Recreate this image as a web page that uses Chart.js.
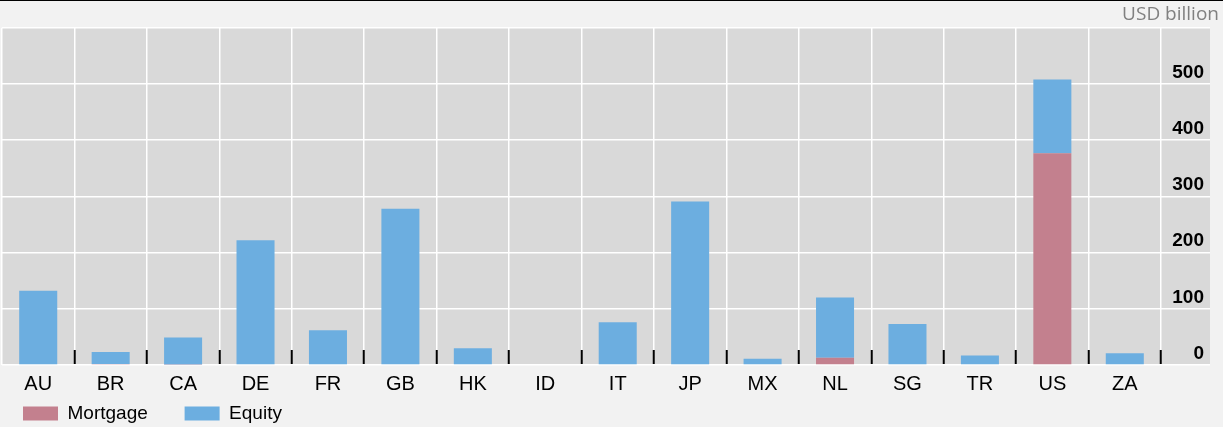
<!DOCTYPE html>
<html>
<head>
<meta charset="utf-8">
<script src="https://cdn.jsdelivr.net/npm/chart.js@4.4.1/dist/chart.umd.min.js"></script>
<style>
    html, body { margin: 0; padding: 0; background: #f2f2f2; }
    #wrap { width: 1223px; height: 427px; position: relative; }
</style>
</head>
<body>
<div id="wrap"><canvas id="chart"></canvas></div>
<script>
// --- Data ---
const countries = ['AU', 'BR', 'CA', 'DE', 'FR', 'GB', 'HK', 'ID', 'IT', 'JP', 'MX', 'NL', 'SG', 'TR', 'US', 'ZA'];
const mortgage = [0, 2, 1, 0, 0, 0, 0, 0, 0, 0, 0, 13, 0, 0, 377, 0];
const equity = [132, 21, 48, 222, 62, 278, 30, 0, 76, 291, 11, 107, 73, 17, 131, 21];
const yTickValues = [0, 100, 200, 300, 400, 500];
const yTickLabels = ['0', '100', '200', '300', '400', '500'];
const unitLabel = 'USD billion';

const fontFamily = '"Liberation Sans", Arial, sans-serif';
const gridExtend = 49; // horizontal grid lines run on into the label strip

// gray plot panel behind the grid (reaches over the value labels on the right)
const panelPlugin = {
    id: 'panel',
    beforeDraw(chart) {
        const { ctx, chartArea } = chart;
        const yScale = chart.scales.y;
        ctx.save();
        ctx.fillStyle = '#000';
        ctx.fillRect(0, 0, chart.width, 1);
        ctx.fillStyle = '#d9d9d9';
        ctx.fillRect(chartArea.left, chartArea.top,
            yScale.left + gridExtend - chartArea.left, chartArea.bottom - chartArea.top);
        ctx.restore();
    }
};

const ctx = document.getElementById('chart').getContext('2d');
new Chart(ctx, {
    type: 'bar',
    data: {
        labels: countries,
        datasets: [
            { label: 'Mortgage', data: mortgage, backgroundColor: '#c3808e', borderWidth: 0 },
            { label: 'Equity', data: equity, backgroundColor: '#6caee0', borderWidth: 0 }
        ]
    },
    options: {
        responsive: true,
        maintainAspectRatio: false,
        animation: false,
        layout: { padding: { left: 2, right: 4, top: 0, bottom: -6 } },
        datasets: { bar: { barPercentage: 0.525, categoryPercentage: 1 } },
        scales: {
            x: {
                stacked: true,
                border: { display: false },
                grid: {
                    color: '#ffffff',
                    lineWidth: 1.5,
                    offset: true,
                    tickLength: -15,
                    tickWidth: 2,
                    tickColor: c => c.index === 0 ? 'rgba(0,0,0,0)' : '#000'
                },
                ticks: {
                    color: '#000',
                    mirror: true,
                    padding: -31,
                    font: { family: fontFamily, size: 20 }
                },
                afterFit: s => { s.height = 18; }
            },
            y: {
                stacked: true,
                position: 'right',
                min: 0,
                max: 600,
                border: { display: false },
                grid: {
                    color: '#ffffff',
                    lineWidth: 1.5,
                    tickLength: gridExtend
                },
                ticks: {
                    stepSize: 100,
                    color: '#000',
                    crossAlign: 'far',
                    padding: 0,
                    font: { family: fontFamily, size: 19, weight: 'bold' },
                    callback: v => {
                        const i = yTickValues.indexOf(v);
                        return i < 0 ? '' : [yTickLabels[i], ''];
                    }
                },
                afterFit: s => { s.width = 43; }
            },
            // empty strip right of the value labels
            yPad: {
                type: 'linear',
                position: 'right',
                weight: 1,
                border: { display: false },
                grid: { display: false, drawTicks: false },
                ticks: { display: false },
                afterFit: s => { s.width = 15; }
            }
        },
        plugins: {
            title: {
                display: true,
                text: unitLabel,
                align: 'end',
                color: '#808080',
                font: { family: '"Open Sans", sans-serif', size: 19, weight: 'normal' },
                padding: { top: 3, bottom: 2 }
            },
            legend: {
                position: 'bottom',
                align: 'start',
                labels: {
                    boxWidth: 35,
                    boxHeight: 14,
                    padding: 21,
                    color: '#000',
                    font: { family: fontFamily, size: 19 },
                    generateLabels: chart => Chart.defaults.plugins.legend.labels.generateLabels(chart)
                        .map((item, i) => i === 0 ? { ...item, text: item.text + '   ' } : item)
                }
            },
            tooltip: { enabled: false }
        }
    },
    plugins: [panelPlugin]
});
</script>
</body>
</html>
